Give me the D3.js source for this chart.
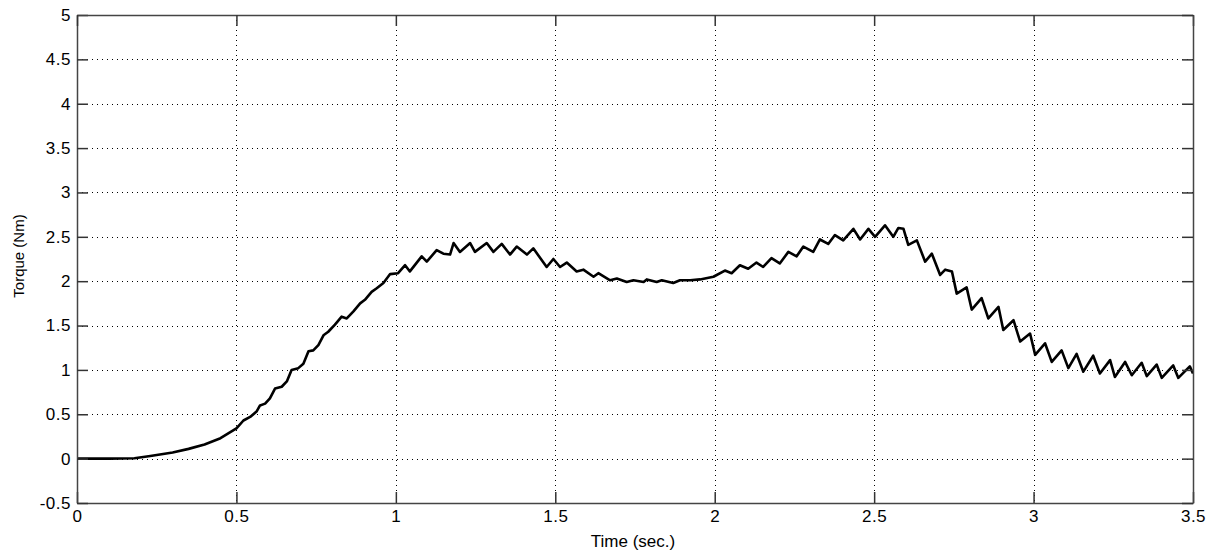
<!DOCTYPE html>
<html>
<head>
<meta charset="utf-8">
<script src="https://cdn.jsdelivr.net/npm/d3@7"></script>
<style>
  body { margin: 0; background: #fff; }
  text { font-family: "Liberation Sans", Arial, sans-serif; fill: #000; }
</style>
</head>
<body>
<div id="chart"></div>
<script>
// torque curve, values
const times = [0, 0.1, 0.18, 0.23, 0.3, 0.35, 0.4, 0.45, 0.5, 0.522, 0.543, 0.563, 0.574, 0.590, 0.605, 0.621,
  0.642, 0.658, 0.673, 0.694, 0.710, 0.726, 0.741, 0.757, 0.773, 0.788, 0.809, 0.830, 0.846, 0.867, 0.888, 0.903,
  0.924, 0.940, 0.961, 0.982, 1.007, 1.029, 1.044, 1.081, 1.097, 1.128, 1.149, 1.170, 1.181, 1.201, 1.233, 1.248,
  1.285, 1.306, 1.332, 1.358, 1.379, 1.411, 1.431, 1.473, 1.494, 1.515, 1.536, 1.567, 1.588, 1.620, 1.635, 1.672,
  1.693, 1.724, 1.745, 1.777, 1.787, 1.818, 1.834, 1.870, 1.891, 1.923, 1.954, 1.996, 2.032, 2.053, 2.079, 2.105,
  2.131, 2.152, 2.178, 2.204, 2.231, 2.257, 2.278, 2.309, 2.330, 2.356, 2.377, 2.403, 2.435, 2.456, 2.482, 2.503,
  2.534, 2.560, 2.576, 2.592, 2.607, 2.634, 2.660, 2.681, 2.707, 2.723, 2.744, 2.759, 2.790, 2.806, 2.837, 2.858,
  2.890, 2.905, 2.937, 2.958, 2.989, 3.005, 3.036, 3.057, 3.088, 3.109, 3.135, 3.156, 3.187, 3.208, 3.240, 3.255,
  3.287, 3.308, 3.339, 3.355, 3.386, 3.402, 3.438, 3.454, 3.490, 3.5];
const torque = [0, 0, 0.005, 0.03, 0.07, 0.11, 0.16, 0.23, 0.34, 0.43, 0.47, 0.53, 0.60, 0.62, 0.68, 0.79,
  0.81, 0.87, 1.00, 1.02, 1.07, 1.21, 1.22, 1.28, 1.39, 1.43, 1.51, 1.60, 1.58, 1.66, 1.75, 1.79,
  1.88, 1.92, 1.98, 2.08, 2.09, 2.18, 2.11, 2.28, 2.22, 2.35, 2.31, 2.30, 2.43, 2.33, 2.43, 2.33,
  2.43, 2.33, 2.42, 2.30, 2.39, 2.30, 2.37, 2.16, 2.25, 2.16, 2.21, 2.11, 2.13, 2.05, 2.09, 2.01,
  2.03, 1.99, 2.01, 1.99, 2.02, 1.99, 2.01, 1.98, 2.01, 2.01, 2.02, 2.05, 2.12, 2.09, 2.18, 2.14,
  2.21, 2.16, 2.26, 2.20, 2.33, 2.28, 2.39, 2.33, 2.47, 2.42, 2.52, 2.46, 2.59, 2.47, 2.59, 2.50,
  2.63, 2.50, 2.60, 2.59, 2.41, 2.46, 2.22, 2.31, 2.07, 2.13, 2.11, 1.86, 1.93, 1.68, 1.81, 1.58,
  1.71, 1.45, 1.56, 1.32, 1.41, 1.17, 1.30, 1.09, 1.22, 1.02, 1.18, 0.98, 1.16, 0.96, 1.11, 0.92,
  1.09, 0.94, 1.08, 0.93, 1.06, 0.91, 1.05, 0.91, 1.04, 0.96];

const xTicks = [0, 0.5, 1, 1.5, 2, 2.5, 3, 3.5];
const yTicks = [-0.5, 0, 0.5, 1, 1.5, 2, 2.5, 3, 3.5, 4, 4.5, 5];

const W = 1215, H = 555;
const m = {left: 77, top: 15, right: 22, bottom: 52};
const w = W - m.left - m.right, h = H - m.top - m.bottom;

const svg = d3.select("#chart").append("svg")
  .attr("width", W).attr("height", H);

const g = svg.append("g").attr("transform", `translate(${m.left},${m.top})`);

const x = d3.scaleLinear().domain([0, 3.5]).range([0, w]);
const y = d3.scaleLinear().domain([-0.5, 5]).range([h, 0]);

// dotted grid
g.append("g").selectAll("line").data(xTicks.slice(1)).enter().append("line")
  .attr("x1", d => Math.round(x(d)) + 0.5).attr("x2", d => Math.round(x(d)) + 0.5)
  .attr("y1", 0).attr("y2", h)
  .attr("stroke", "#000").attr("stroke-dasharray", "1,4");
g.append("g").selectAll("line").data(yTicks.slice(1, -1)).enter().append("line")
  .attr("y1", d => Math.round(y(d)) + 0.5).attr("y2", d => Math.round(y(d)) + 0.5)
  .attr("x1", 0).attr("x2", w)
  .attr("stroke", "#000").attr("stroke-dasharray", "1,4");

// the curve
g.append("clipPath").attr("id", "clip").append("rect").attr("width", w).attr("height", h);
const line = d3.line().x(d => x(d[0])).y(d => y(d[1]));
g.append("path")
  .datum(d3.zip(times, torque))
  .attr("clip-path", "url(#clip)")
  .attr("d", line)
  .attr("fill", "none")
  .attr("stroke", "#000")
  .attr("stroke-width", 2.6)
  .attr("stroke-linejoin", "round");

// axes, ticks pointing in
const fmt = d => String(d);   // plain hyphen for negatives
const ax = (a) => a.tickSizeInner(-11).tickSizeOuter(0);
const xa = g.append("g").attr("transform", `translate(0,${h})`)
  .call(ax(d3.axisBottom(x).tickValues(xTicks).tickFormat(fmt)).tickPadding(5));
const ya = g.append("g")
  .call(ax(d3.axisLeft(y).tickValues(yTicks).tickFormat(fmt)).tickPadding(6));
g.append("g").call(ax(d3.axisTop(x).tickValues(xTicks)).tickFormat(""));
g.append("g").attr("transform", `translate(${w},0)`)
  .call(ax(d3.axisRight(y).tickValues(yTicks)).tickFormat(""));

g.selectAll(".domain").attr("stroke", "#444").attr("stroke-width", 1.5);
g.selectAll(".tick line").attr("stroke", "#333").attr("stroke-width", 1.5);
g.selectAll(".tick text").style("font-size", "17px").style("letter-spacing", "0.5px")
  .style("font-family", '"Liberation Sans", Arial, sans-serif').attr("fill", "#000");
xa.selectAll(".tick text").attr("dy", "0.85em");

// axis titles
svg.append("text")
  .attr("x", m.left + w / 2 - 2).attr("y", 547)
  .attr("text-anchor", "middle").style("font-size", "17px")
  .text("Time (sec.)");
svg.append("text")
  .attr("transform", `translate(24,${m.top + h / 2 - 3}) rotate(-90)`)
  .attr("text-anchor", "middle").style("font-size", "15px")
  .text("Torque (Nm)");
</script>
</body>
</html>
